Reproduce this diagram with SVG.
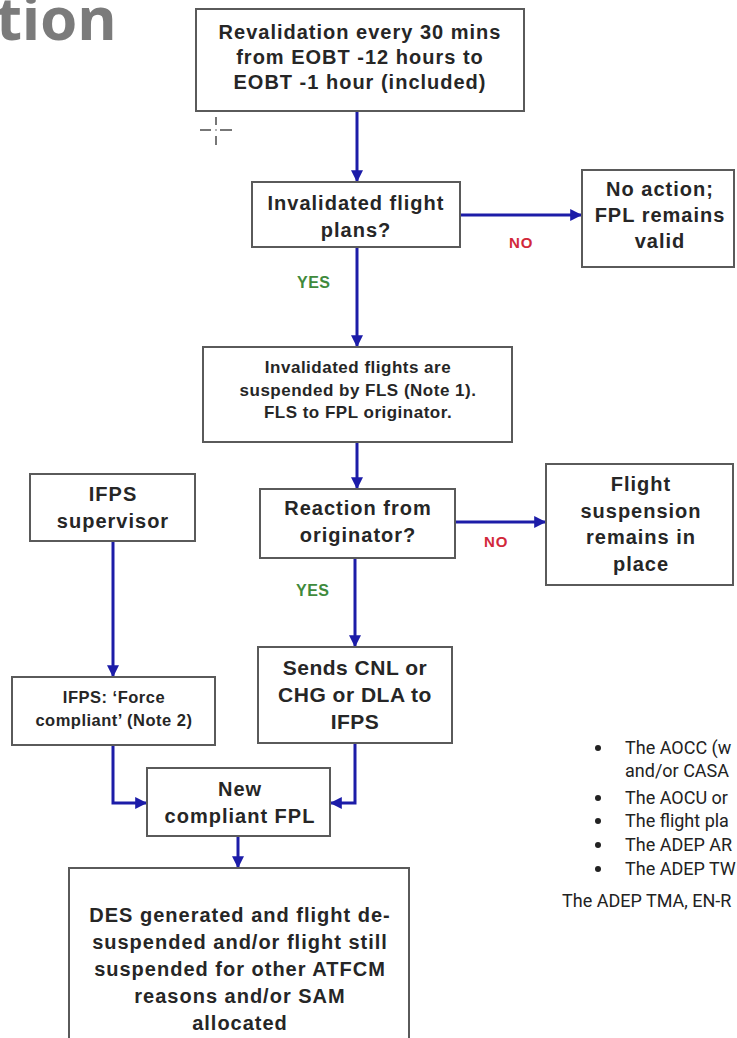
<svg xmlns="http://www.w3.org/2000/svg" width="737" height="1038" viewBox="0 0 737 1038">
  <style>
    .box { fill: #ffffff; stroke: #5a5a5a; stroke-width: 2; }
    .t { font-family: "Liberation Sans", Arial, sans-serif; font-weight: bold; fill: #262626; text-anchor: middle; font-size: 20px; letter-spacing: 1px; }
    .f17 { font-size: 17px; letter-spacing: 0.5px; }
    .f16 { font-size: 16.5px; letter-spacing: 0.5px; }
    .f21 { font-size: 21px; letter-spacing: 0.5px; }
    .link { fill: none; stroke: #1c1ca8; stroke-width: 3; }
    .no { font-family: "Liberation Sans", Arial, sans-serif; font-weight: bold; font-size: 15px; letter-spacing: 1px; fill: #d2283a; }
    .yes { font-family: "Liberation Sans", Arial, sans-serif; font-weight: bold; font-size: 16px; letter-spacing: 0.5px; fill: #3f8a3c; }
    .body { font-family: Roboto, "Liberation Sans", sans-serif; font-size: 18px; fill: #222222; }
    .cross { stroke: #555555; stroke-width: 1.6; }
  </style>
  <defs>
    <marker id="arrow" viewBox="0 0 10 10" refX="9" refY="5" markerWidth="4" markerHeight="4" orient="auto" markerUnits="strokeWidth">
      <path d="M0,0 L10,5 L0,10 z" fill="#1c1ca8"/>
    </marker>
  </defs>

  <rect width="737" height="1038" fill="#ffffff"/>

  <!-- heading fragment -->
  <text x="-4" y="40" font-family="'Noto Sans', 'Open Sans', sans-serif" font-weight="bold" font-size="60" fill="#7b7b7b">tion</text>

  <!-- cursor crosshair -->
  <g id="crosshair" class="cross">
    <line x1="216" y1="117" x2="216" y2="125"/>
    <line x1="216" y1="136" x2="216" y2="145"/>
    <line x1="200" y1="130" x2="211" y2="130"/>
    <line x1="220" y1="130" x2="232" y2="130"/>
    <circle cx="216" cy="130" r="0.8" fill="#555555" stroke="none"/>
  </g>

  <!-- connectors -->
  <g id="connectors">
    <path class="link" d="M357,111 V181" marker-end="url(#arrow)"/>
    <path class="link" d="M460,215 H581" marker-end="url(#arrow)"/>
    <path class="link" d="M357,247 V346" marker-end="url(#arrow)"/>
    <path class="link" d="M357,442 V488" marker-end="url(#arrow)"/>
    <path class="link" d="M455,522 H545" marker-end="url(#arrow)"/>
    <path class="link" d="M355,558 V646" marker-end="url(#arrow)"/>
    <path class="link" d="M113,541 V676" marker-end="url(#arrow)"/>
    <path class="link" d="M113,745 V803 H146" marker-end="url(#arrow)"/>
    <path class="link" d="M355,743 V803 H331" marker-end="url(#arrow)"/>
    <path class="link" d="M238,836 V867" marker-end="url(#arrow)"/>
    <text class="no" x="509" y="248">NO</text>
    <text class="yes" x="297" y="288">YES</text>
    <text class="no" x="484" y="547">NO</text>
    <text class="yes" x="296" y="596">YES</text>
  </g>

  <g id="revalidation">
    <rect class="box" x="196" y="9" width="328" height="102"/>
    <text class="t" x="360" y="39">Revalidation every 30 mins</text>
    <text class="t" x="360" y="64">from EOBT -12 hours to</text>
    <text class="t" x="360" y="89">EOBT -1 hour (included)</text>
  </g>

  <g id="invalidated">
    <rect class="box" x="252" y="182" width="208" height="65"/>
    <text class="t" x="356" y="210">Invalidated flight</text>
    <text class="t" x="356" y="237">plans?</text>
  </g>

  <g id="no-action">
    <rect class="box" x="582" y="170" width="152" height="97"/>
    <text class="t" x="660" y="196">No action;</text>
    <text class="t" x="660" y="222">FPL remains</text>
    <text class="t" x="660" y="248">valid</text>
  </g>

  <g id="suspended">
    <rect class="box" x="203" y="347" width="309" height="95"/>
    <text class="t f17" x="358" y="373">Invalidated flights are</text>
    <text class="t f17" x="358" y="396">suspended by FLS (Note 1).</text>
    <text class="t f17" x="358" y="418">FLS to FPL originator.</text>
  </g>

  <g id="reaction">
    <rect class="box" x="260" y="489" width="195" height="69"/>
    <text class="t" x="358" y="515">Reaction from</text>
    <text class="t" x="358" y="542">originator?</text>
  </g>

  <g id="suspension-remains">
    <rect class="box" x="546" y="464" width="187" height="121"/>
    <text class="t" x="641" y="491">Flight</text>
    <text class="t" x="641" y="518">suspension</text>
    <text class="t" x="641" y="544">remains in</text>
    <text class="t" x="641" y="571">place</text>
  </g>

  <g id="ifps-supervisor">
    <rect class="box" x="30" y="474" width="165" height="67"/>
    <text class="t" x="113" y="501">IFPS</text>
    <text class="t" x="113" y="528">supervisor</text>
  </g>

  <g id="force-compliant">
    <rect class="box" x="12" y="677" width="203" height="68"/>
    <text class="t f16" x="114" y="703">IFPS: ‘Force</text>
    <text class="t f16" x="114" y="726">compliant’ (Note 2)</text>
  </g>

  <g id="sends-cnl">
    <rect class="box" x="258" y="647" width="194" height="96"/>
    <text class="t f21" x="355" y="675">Sends CNL or</text>
    <text class="t f21" x="355" y="702">CHG or DLA to</text>
    <text class="t f21" x="355" y="729">IFPS</text>
  </g>

  <g id="new-fpl">
    <rect class="box" x="147" y="768" width="183" height="68"/>
    <text class="t" x="240" y="796">New</text>
    <text class="t" x="240" y="823">compliant FPL</text>
  </g>

  <g id="des-generated">
    <rect class="box" x="69" y="868" width="340" height="180"/>
    <text class="t" x="240" y="922">DES generated and flight de-</text>
    <text class="t" x="240" y="949">suspended and/or flight still</text>
    <text class="t" x="240" y="976">suspended for other ATFCM</text>
    <text class="t" x="240" y="1003">reasons and/or SAM</text>
    <text class="t" x="240" y="1030">allocated</text>
  </g>

  <!-- body text beside the chart -->
  <g id="bullets" class="body">
    <circle cx="598" cy="748" r="3" fill="#222222"/>
    <circle cx="598" cy="798" r="3" fill="#222222"/>
    <circle cx="598" cy="821" r="3" fill="#222222"/>
    <circle cx="598" cy="845" r="3" fill="#222222"/>
    <circle cx="598" cy="869" r="3" fill="#222222"/>
    <text x="625" y="754">The AOCC (w</text>
    <text x="625" y="777">and/or CASA</text>
    <text x="625" y="804">The AOCU or</text>
    <text x="625" y="827">The flight pla</text>
    <text x="625" y="851">The ADEP AR</text>
    <text x="625" y="875">The ADEP TW</text>
    <text x="562" y="907">The ADEP TMA, EN-R</text>
  </g>
</svg>
